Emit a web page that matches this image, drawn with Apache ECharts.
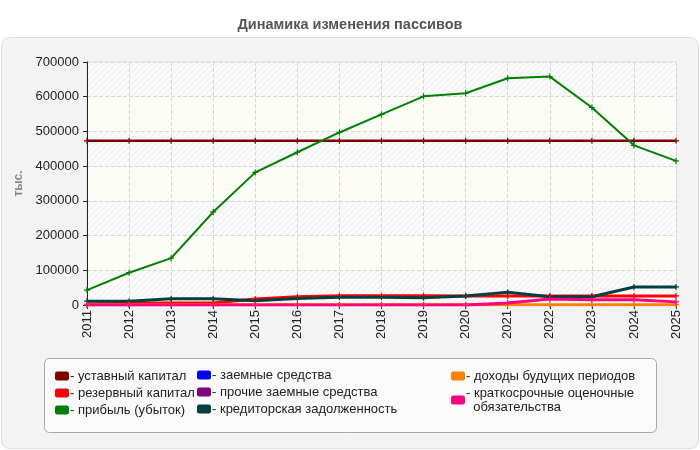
<!DOCTYPE html>
<html><head><meta charset="utf-8">
<script src="https://cdn.jsdelivr.net/npm/echarts@6/dist/echarts.min.js"></script>
<style>html,body{margin:0;padding:0;background:#fff}#c{width:700px;height:450px}</style>
</head><body><div id="c"></div>
<script>
var years = ['2011','2012','2013','2014','2015','2016','2017','2018','2019','2020','2021','2022','2023','2024','2025'];
var ustavny = [473000,473000,473000,473000,473000,473000,473000,473000,473000,473000,473000,473000,473000,473000,473000];
var rezervny = [2000,6000,6000,6000,17000,24000,27000,27000,27000,26000,26000,26000,26000,26000,26000];
var pribyl = [43000,93000,135000,268000,382000,440000,497000,549000,601000,610000,653000,658000,569000,460000,415000];
var zaemnye = [null,null,null,null,null,null,null,null,null,null,null,null,null,null,null];
var prochie = [null,null,null,null,null,null,null,null,null,null,null,null,null,null,null];
var kreditor = [11000,11000,18000,18000,12000,19000,22000,22500,21000,26000,37000,24000,24000,52000,52000];
var dohody = [1000,1000,1000,1000,1000,1000,1000,1000,1000,1000,1000,1000,1000,1000,1000];
var kratko = [0,0,0,0,0,0,0,0,0,0,6000,17000,15000,15000,9000];
var yTicks = [0,100000,200000,300000,400000,500000,600000,700000];

var names = ['уставный капитал','резервный капитал','прибыль (убыток)','заемные средства','прочие заемные средства','кредиторская задолженность','доходы будущих периодов','краткосрочные оценочные обязательства'];
var colors = ['#800000','#ff0000','#008000','#0000ff','#800080','#004040','#ff8000','#ff0080'];
var datas = [ustavny,rezervny,pribyl,zaemnye,prochie,kreditor,dohody,kratko];
var widths = [2.5,3,2,2,2,3,3,3];

var pc = document.createElement('canvas'); pc.width=6; pc.height=6;
var g = pc.getContext('2d'); g.fillStyle='#fbfbfb'; g.fillRect(0,0,6,6);
g.strokeStyle='#ececec'; g.lineWidth=1;
g.beginPath(); g.moveTo(0,6); g.lineTo(6,0); g.moveTo(-3,3); g.lineTo(3,-3); g.moveTo(3,9); g.lineTo(9,3); g.stroke();

var font = '"Liberation Sans", Arial, sans-serif';
var chart = echarts.init(document.getElementById('c'), null, {renderer:'canvas'});
var plus = 'path://M2,0H3V2H5V3H3V5H2V3H0V2H2Z';
var series = names.map(function(n,i){
  return {name:n,type:'line',data:datas[i],symbol:plus,symbolSize:6,showSymbol:true,
    itemStyle:{color:colors[i]},lineStyle:{width:widths[i],color:colors[i]},animation:false,z:(i==2?5:3)};
});
function lg(data,left,top){
  return {data:data,left:left,top:top,orient:'vertical',itemWidth:14,itemHeight:9,icon:'roundRect',itemGap:3,
    textStyle:{fontFamily:font,fontSize:13,color:'#222',padding:[0,0,0,-4],lineHeight:14},
    formatter:function(n){return '- '+(n==='краткосрочные оценочные обязательства'?'краткосрочные оценочные\n  обязательства':n);},
    selectedMode:false};
}
chart.setOption({
  animation:false,
  textStyle:{fontFamily:font},
  title:{text:'Динамика изменения пассивов',left:'center',top:12,textStyle:{fontFamily:font,fontSize:14.5,fontWeight:'bold',color:'#555'}},
  graphic:[
    {type:'rect',shape:{x:1.5,y:37.5,width:697,height:411,r:8},style:{fill:'#f3f3f3',stroke:'#dedede',lineWidth:1},z:-10,silent:true},
    {type:'rect',shape:{x:44.5,y:358.5,width:612,height:74,r:5},style:{fill:'#fafafa',stroke:'#a8a8a8',lineWidth:1},z:-9,silent:true},
    {type:'rect',shape:{x:87,y:62,width:589,height:243},style:{fill:'none',stroke:'#dcdcdc',lineWidth:1},z:-1,silent:true}
  ],
  legend:[lg(names.slice(0,3),50,364),lg(names.slice(3,6),192,363),lg(names.slice(6,8),446,364)],
  grid:{left:87,right:24,top:62,bottom:145},
  xAxis:{type:'category',data:years,boundaryGap:false,
    axisLine:{lineStyle:{color:'#222',width:1}},axisTick:{show:true,length:4,lineStyle:{color:'#222'}},
    axisLabel:{rotate:90,color:'#222',fontSize:13,fontFamily:font,margin:5},
    splitLine:{show:true,lineStyle:{type:'dashed',color:'#d8d8d8'}}},
  yAxis:{type:'value',min:0,max:700000,interval:100000,
    name:'тыс.',nameLocation:'middle',nameGap:62,nameRotate:90,
    nameTextStyle:{color:'#888',fontWeight:'bold',fontSize:12,fontFamily:font},
    axisLine:{show:true,lineStyle:{color:'#222'}},axisTick:{show:true,length:4,lineStyle:{color:'#222'}},
    axisLabel:{color:'#222',fontSize:13,fontFamily:font,margin:8,formatter:function(v){return yTicks.indexOf(v)>=0?String(v):'';}},
    splitLine:{show:true,lineStyle:{type:'dashed',color:'#d8d8d8'}},
    splitArea:{show:true,areaStyle:{color:[{image:pc,repeat:'repeat'},'#fcfdf6']}}},
  series:series
});
</script></body></html>
